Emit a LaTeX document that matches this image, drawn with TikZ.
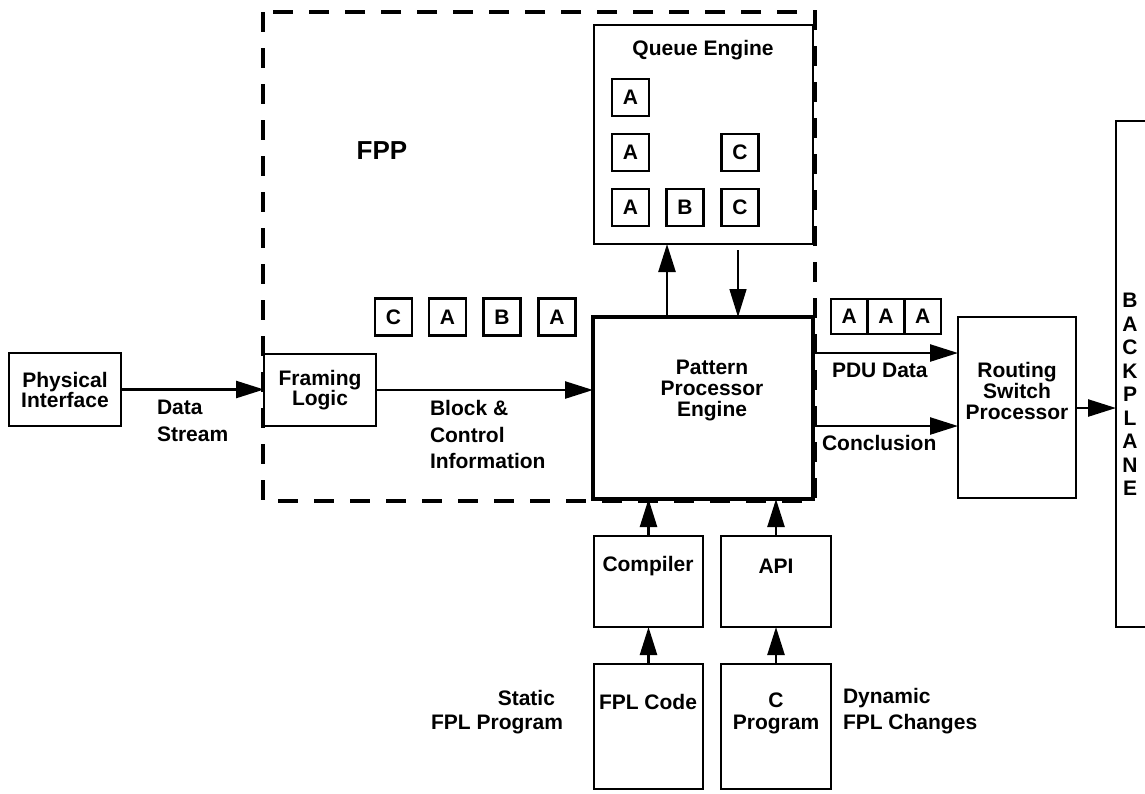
\documentclass[tikz,border=0pt]{standalone}
\usepackage{fontspec}
\setmainfont{Liberation Sans}
\usetikzlibrary{arrows.meta}
\begin{document}
\begin{tikzpicture}[x=1pt,y=-1pt,
  every node/.style={font=\fontsize{21}{21}\selectfont\bfseries, inner sep=0pt, outer sep=0pt},
  box/.style={draw, line width=2.5pt, rectangle, fill=white},
  cell/.style={draw, line width=2.5pt, minimum width=37pt, minimum height=37pt, fill=white},
  conn/.style={line width=2.5pt, -{Triangle[length=28pt,width=17pt]}},
  thinconn/.style={line width=1.5pt, -{Triangle[length=28pt,width=17pt]}},
  fppbox/.style={line width=3.5pt, dash pattern=on 20pt off 16pt},
]
\useasboundingbox (0,0) rectangle (1145,793);
% FPP dashed boundary
\draw[fppbox] (263,12) rectangle (815,501);
\node[font=\fontsize{26}{26}\selectfont\bfseries] (fpp) at (382,151) {FPP};

% left boxes
\node[box, minimum width=112pt, minimum height=73pt, align=center, font=\fontsize{21}{20}\selectfont\bfseries] (phys) at (65,389.5) {Physical\\Interface};
\node[box, minimum width=112pt, minimum height=72pt, align=center, font=\fontsize{21}{20}\selectfont\bfseries] (fram) at (320,390) {Framing\\Logic};

% pattern processor engine
\node[box, line width=4pt, minimum width=220pt, minimum height=182pt] (ppe) at (703,408) {};
\node[align=center] (ppetxt) at (712,390) {Pattern\\Processor\\Engine};

% queue engine
\node[box, minimum width=219pt, minimum height=219pt] (qe) at (703.5,134.5) {};
\node (qetxt) at (703,50) {Queue Engine};
\node[cell] (q11) at (630.5,97.5) {A};
\node[cell] (q21) at (630.5,152.5) {A};
\node[cell] (q23) at (740,152.5) {C};
\node[cell] (q31) at (630.5,207.5) {A};
\node[cell] (q32) at (685,207.5) {B};
\node[cell] (q33) at (740,207.5) {C};

% block queue before PPE
\node[cell] (b1) at (393.5,317) {C};
\node[cell] (b2) at (447.5,317) {A};
\node[cell] (b3) at (502,317) {B};
\node[cell] (b4) at (557,317) {A};

% PDU strip
\node[cell, minimum width=36.7pt, minimum height=35pt] (s1) at (849.3,316.5) {A};
\node[cell, minimum width=36.7pt, minimum height=35pt] (s2) at (886,316.5) {A};
\node[cell, minimum width=36.7pt, minimum height=35pt] (s3) at (922.7,316.5) {A};

% routing switch processor
\node[box, minimum width=118pt, minimum height=181pt] (rsp) at (1017,407.5) {};
\node[align=center] (rsptxt) at (1017,391) {Routing\\Switch\\Processor};

% backplane
\node[box, minimum width=80pt, minimum height=506pt, anchor=north west] (bp) at (1116,121) {};
\node[align=center, font=\fontsize{21}{23.5}\selectfont\bfseries] (bptxt) at (1130,394.5) {B\\A\\C\\K\\P\\L\\A\\N\\E};

% lower boxes
\node[box, minimum width=109pt, minimum height=91pt] (comp) at (648.5,581.5) {};
\node (comptxt) at (648,566) {Compiler};
\node[box, minimum width=110pt, minimum height=91pt] (api) at (776,581.5) {};
\node (apitxt) at (776,566) {API};
\node[box, minimum width=109pt, minimum height=125pt] (fpl) at (648.5,726.5) {};
\node (fpltxt) at (648,702) {FPL Code};
\node[box, minimum width=110pt, minimum height=125pt] (cprog) at (776,726.5) {};
\node[align=center, font=\fontsize{21}{22}\selectfont\bfseries] (cprogtxt) at (776,713) {C\\Program};

% labels
\node[anchor=west, align=left, font=\fontsize{21}{27}\selectfont\bfseries] (dstxt) at (157,420.5) {Data\\Stream};
\node[anchor=west, align=left, font=\fontsize{21}{26.5}\selectfont\bfseries] (bctxt) at (430,434.5) {Block \&\\Control\\Information};
\node[anchor=west] (pdutxt) at (832,370) {PDU Data};
\node[anchor=west] (conctxt) at (822,443) {Conclusion};
\node[anchor=east] (stattxt) at (555,698) {Static};
\node[anchor=east] (stattxtb) at (563,724) {FPL Program};
\node[anchor=west, align=left, font=\fontsize{21}{26}\selectfont\bfseries] (dyntxt) at (843,711) {Dynamic\\FPL Changes};

% connectors
\coordinate (upx) at (667,0);
\coordinate (qeout) at (738,250);
\coordinate (pdu) at (0,353);
\coordinate (concl) at (0,426);
\coordinate (bpy) at (0,408);
\draw[conn] (phys.east) -- (phys.east -| fram.west);
\draw[conn] (fram.east) -- (fram.east -| ppe.west);
\draw[conn] (ppe.north -| upx) -- (qe.south -| upx);
\draw[thinconn] (qeout) -- (qeout |- ppe.north);
\draw[conn] (ppe.east |- pdu) -- (rsp.west |- pdu);
\draw[conn] (ppe.east |- concl) -- (rsp.west |- concl);
\draw[conn] (rsp.east |- bpy) -- (bp.west |- bpy);
\draw[conn] (comp.north) -- (comp.north |- ppe.south);
\draw[conn] (api.north) -- (api.north |- ppe.south);
\draw[conn] (fpl.north) -- (fpl.north |- comp.south);
\draw[conn] (cprog.north) -- (cprog.north |- api.south);
\end{tikzpicture}
\end{document}
